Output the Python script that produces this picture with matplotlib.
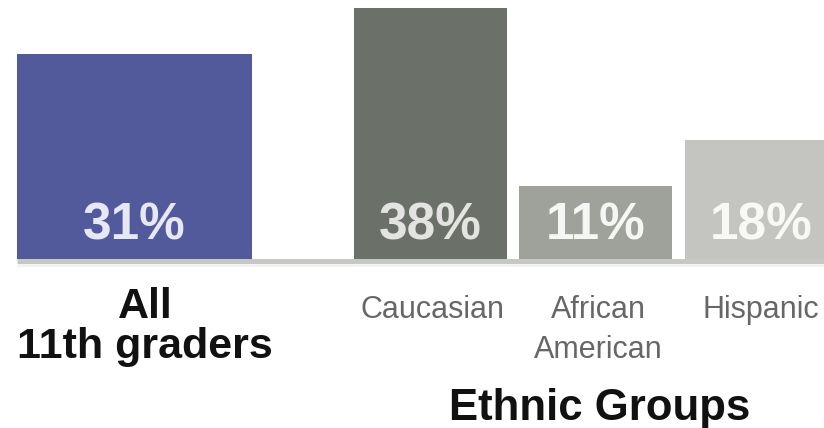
import matplotlib.pyplot as plt

groups = ['All\n11th graders', 'Caucasian', 'African\nAmerican', 'Hispanic']
values = [31, 38, 11, 18]
bar_labels = ['31%', '38%', '11%', '18%']

# layout (pixel units along x)
lefts = [17, 354, 519, 685]
widths = [235, 153, 153, 153]
colors = ['#525a9b', '#6b7068', '#9ea29b', '#c4c5c1']
text_colors = ['#e6e8f5', '#e3e4e1', '#f6f7f5', '#f8f8f7']

plt.rcParams['font.family'] = ['Liberation Sans', 'DejaVu Sans']

W, H = 824, 428
fig = plt.figure(figsize=(W / 100, H / 100), dpi=100)
ax = fig.add_axes([0, 0, 1, 1])
ax.axis('off')
scale = 6.61  # pixels per percent
base = 259    # baseline pixel from top
ax.set_xlim(0, W)
ax.set_ylim(-(H - base) / scale, base / scale)


def ypx(p):
    return (base - p) / scale


ax.bar(lefts, values, width=widths, align='edge', color=colors, zorder=2)
ax.plot([17, W], [ypx(260.5)] * 2, color='#c6c8c4', lw=3.6,
        solid_capstyle='butt', zorder=3)
ax.plot([17, W], [ypx(264.5)] * 2, color='#f2f2f2', lw=2,
        solid_capstyle='butt', zorder=1)

for l, w, t, tc in zip(lefts, widths, bar_labels, text_colors):
    ax.text(l + w / 2, ypx(240), t, ha='center', va='baseline', color=tc,
            fontsize=37, fontweight='bold', zorder=4)

# group labels, one text per line
label_x = [145, 433, 598, 761]
for i, (cx, g) in enumerate(zip(label_x, groups)):
    if i == 0:
        kw = dict(fontsize=31, fontweight='bold', color='#111111')
    else:
        kw = dict(fontsize=22, color='#676767')
    for j, line in enumerate(g.split('\n')):
        ax.text(cx, ypx(318 + 40 * j), line, ha='center', va='baseline', **kw)

ax.text(600, ypx(420), 'Ethnic Groups', ha='center', va='baseline',
        fontsize=31.5, fontweight='bold', color='#111111')

fig.savefig('out.png', dpi=100)
